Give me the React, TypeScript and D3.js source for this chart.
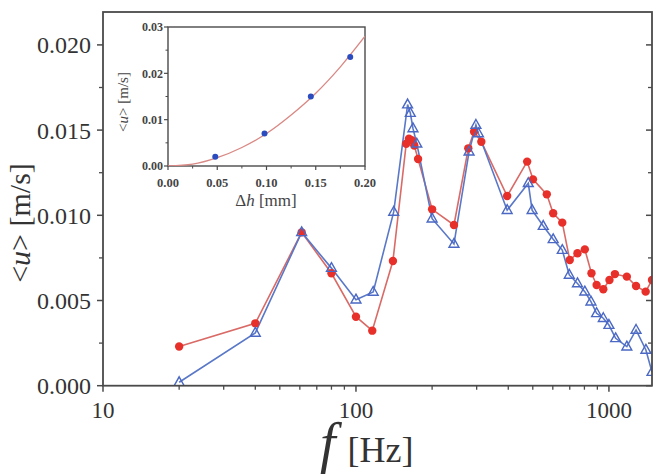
import React from "react";
import * as d3 from "d3";

// Main plot data
const fRed = [20, 40, 61, 80, 100, 116, 140, 158, 162, 166, 170, 176, 200, 244, 278, 293, 313, 396, 475, 501, 568, 602, 654, 700, 751, 803, 853, 894, 950, 1005, 1056, 1177, 1280, 1397, 1480];
const uRed = [0.0023, 0.00366, 0.009, 0.0066, 0.00405, 0.00323, 0.00732, 0.0142, 0.0145, 0.0144, 0.0141, 0.0133, 0.01035, 0.00943, 0.01393, 0.0149, 0.01432, 0.01113, 0.01315, 0.01211, 0.01123, 0.01012, 0.00957, 0.00738, 0.00777, 0.008, 0.0066, 0.00591, 0.00566, 0.0062, 0.00655, 0.0064, 0.00585, 0.00552, 0.0062];
const fBlue = [20, 40, 61, 80, 100, 117, 141, 160, 164, 168, 174, 200, 244, 280, 298, 305, 396, 480, 497, 550, 602, 654, 697, 751, 803, 849, 894, 950, 1000, 1063, 1177, 1280, 1400, 1480];
const uBlue = [0.0002, 0.0031, 0.009, 0.0069, 0.00505, 0.0055, 0.0102, 0.0165, 0.016, 0.0151, 0.0142, 0.0098, 0.00832, 0.01373, 0.0153, 0.0148, 0.0103, 0.01188, 0.0103, 0.00937, 0.00859, 0.00796, 0.0065, 0.006, 0.00552, 0.00493, 0.00425, 0.00396, 0.00356, 0.00278, 0.00229, 0.00327, 0.0021, 0.0008];
const yTicks = [0, 0.005, 0.01, 0.015, 0.02];
const yTickLabels = ["0.000", "0.005", "0.010", "0.015", "0.020"];
const xTicksMajor = [10, 100, 1000];

// Inset data
const dhPts = [0.048, 0.098, 0.145, 0.185];
const uPts = [0.002, 0.007, 0.015, 0.0235];
const dhFit = [0, 0.025, 0.05, 0.075, 0.1, 0.125, 0.15, 0.175, 0.2];
const uFit = [0, 0.0004, 0.0018, 0.004, 0.007, 0.011, 0.0157, 0.0214, 0.028];
const insetXTicks = [0, 0.05, 0.1, 0.15, 0.2];
const insetYTicks = [0, 0.01, 0.02, 0.03];

const FRAME = "#4a4a4a";
const RED = "#e8302a";
const RED_LINE = "#d96a66";
const BLUE = "#4a68c4";
const BLUE_LINE = "#5a78c8";

export default function App() {
  const L = 103, R = 652, T = 12, B = 385.7;
  const x = d3.scaleLog().domain([10, 1480]).range([L, R]);
  const y = d3.scaleLinear().domain([0, (B - T) / 17040]).range([B, T]);

  const minorX: number[] = [];
  for (let d = 10; d <= 1000; d *= 10) for (let k = 2; k <= 9; k++) if (k * d <= 1480) minorX.push(k * d);
  const minorY = [0.0025, 0.0075, 0.0125, 0.0175];

  const redPts = fRed.map((f, i) => [x(f), y(uRed[i])] as [number, number]);
  const bluePts = fBlue.map((f, i) => [x(f), y(uBlue[i])] as [number, number]);
  const line = d3.line();

  const tri = (cx: number, cy: number, s = 5.5) =>
    `M${cx},${cy - s} L${cx + s * 0.9},${cy + s * 0.6} L${cx - s * 0.9},${cy + s * 0.6} Z`;

  // inset
  const iL = 168, iR = 365, iT = 27, iB = 166;
  const ix = d3.scaleLinear().domain([0, 0.2]).range([iL, iR]);
  const iy = d3.scaleLinear().domain([0, 0.03]).range([iB, iT]);
  const fitLine = d3.line<number>().x((d, i) => ix(dhFit[i])).y((d) => iy(d)).curve(d3.curveMonotoneX);
  const iMinorX = [0.025, 0.075, 0.125, 0.175];
  const iMinorY = [0.005, 0.015, 0.025];

  const serif = "Liberation Serif, Times New Roman, Times, serif";

  return (
    <svg width={656} height={474} style={{ position: "absolute", left: 0, top: 0, background: "#fff", fontFamily: serif }}>
      <defs>
        <clipPath id="plotclip">
          <rect x={L} y={T} width={R - L} height={B - T} />
        </clipPath>
        <clipPath id="insetclip">
          <rect x={iL} y={iT} width={iR - iL} height={iB - iT} />
        </clipPath>
      </defs>
      <rect x={0} y={0} width={656} height={474} fill="#fff" />

      {/* data */}
      <g clipPath="url(#plotclip)">
        <path d={line(redPts) || ""} fill="none" stroke={RED_LINE} strokeWidth={1.6} />
        <path d={line(bluePts) || ""} fill="none" stroke={BLUE_LINE} strokeWidth={1.6} />
        {redPts.map((p, i) => (
          <circle key={"r" + i} cx={p[0]} cy={p[1]} r={4.2} fill={RED} />
        ))}
        {bluePts.map((p, i) => (
          <path key={"b" + i} d={tri(p[0], p[1])} fill="none" stroke={BLUE} strokeWidth={1.4} />
        ))}
      </g>

      {/* frame */}
      <rect x={L} y={T} width={R - L} height={B - T} fill="none" stroke={FRAME} strokeWidth={1.8} />

      {/* y ticks */}
      {yTicks.map((t, i) => (
        <g key={"yt" + i}>
          <line x1={L - 6} x2={L} y1={y(t)} y2={y(t)} stroke={FRAME} strokeWidth={1.5} />
          <line x1={R} x2={R - 6} y1={y(t)} y2={y(t)} stroke={FRAME} strokeWidth={1.5} />
          <text x={L - 12} y={y(t)} dy="0.35em" textAnchor="end" fontSize={24} fill="#333">
            {yTickLabels[i]}
          </text>
        </g>
      ))}
      {minorY.map((t, i) => (
        <g key={"ym" + i}>
          <line x1={L - 4} x2={L} y1={y(t)} y2={y(t)} stroke={FRAME} strokeWidth={1.3} />
          <line x1={R} x2={R - 4} y1={y(t)} y2={y(t)} stroke={FRAME} strokeWidth={1.3} />
        </g>
      ))}

      {/* x ticks */}
      {xTicksMajor.map((t, i) => (
        <g key={"xt" + i}>
          <line x1={x(t)} x2={x(t)} y1={B} y2={B + 6} stroke={FRAME} strokeWidth={1.5} />
          <text x={x(t)} y={418} textAnchor="middle" fontSize={23} fill="#333">
            {t}
          </text>
        </g>
      ))}
      {minorX.map((t, i) => (
        <line key={"xm" + i} x1={x(t)} x2={x(t)} y1={B} y2={B + 4} stroke={FRAME} strokeWidth={1.3} />
      ))}

      {/* axis labels */}
      <text transform="translate(30,223) rotate(-90)" textAnchor="middle" fontSize={30} fill="#333">
        &lt;<tspan fontStyle="italic">u</tspan>&gt; [m/s]
      </text>
      <text x={320} y={462} fontSize={36} fill="#333">
        <tspan fontStyle="italic" fontSize={56}>f</tspan>
        <tspan dx={12}>[Hz]</tspan>
      </text>

      {/* inset */}
      <rect x={iL} y={iT} width={iR - iL} height={iB - iT} fill="#fff" stroke={FRAME} strokeWidth={1.4} />
      <g clipPath="url(#insetclip)">
        <path d={fitLine(uFit) || ""} fill="none" stroke="#d98884" strokeWidth={1.3} />
      </g>
      {dhPts.map((d, i) => (
        <circle key={"ip" + i} cx={ix(d)} cy={iy(uPts[i])} r={3} fill="#2a4cc0" />
      ))}
      {insetXTicks.map((t, i) => (
        <g key={"ixt" + i}>
          <line x1={ix(t)} x2={ix(t)} y1={iB} y2={iB + 4} stroke={FRAME} strokeWidth={1.2} />
          <text x={ix(t)} y={187} textAnchor="middle" fontSize={12.5} fontWeight="bold" fill="#444">
            {t.toFixed(2)}
          </text>
        </g>
      ))}
      {iMinorX.map((t, i) => (
        <line key={"ixm" + i} x1={ix(t)} x2={ix(t)} y1={iB} y2={iB + 2.5} stroke={FRAME} strokeWidth={1} />
      ))}
      {insetYTicks.map((t, i) => (
        <g key={"iyt" + i}>
          <line x1={iL - 4} x2={iL} y1={iy(t)} y2={iy(t)} stroke={FRAME} strokeWidth={1.2} />
          <text x={iL - 5} y={iy(t)} dy="0.35em" textAnchor="end" fontSize={12} fontWeight="bold" fill="#444">
            {t.toFixed(2)}
          </text>
        </g>
      ))}
      {iMinorY.map((t, i) => (
        <line key={"iym" + i} x1={iL - 2.5} x2={iL} y1={iy(t)} y2={iy(t)} stroke={FRAME} strokeWidth={1} />
      ))}
      <text transform="translate(128,102) rotate(-90)" textAnchor="middle" fontSize={15} fill="#444">
        &lt;<tspan fontStyle="italic">u</tspan>&gt; [m/s]
      </text>
      <text x={266} y={206} textAnchor="middle" fontSize={17} fill="#444">
        Δ<tspan fontStyle="italic">h</tspan> [mm]
      </text>
    </svg>
  );
}
